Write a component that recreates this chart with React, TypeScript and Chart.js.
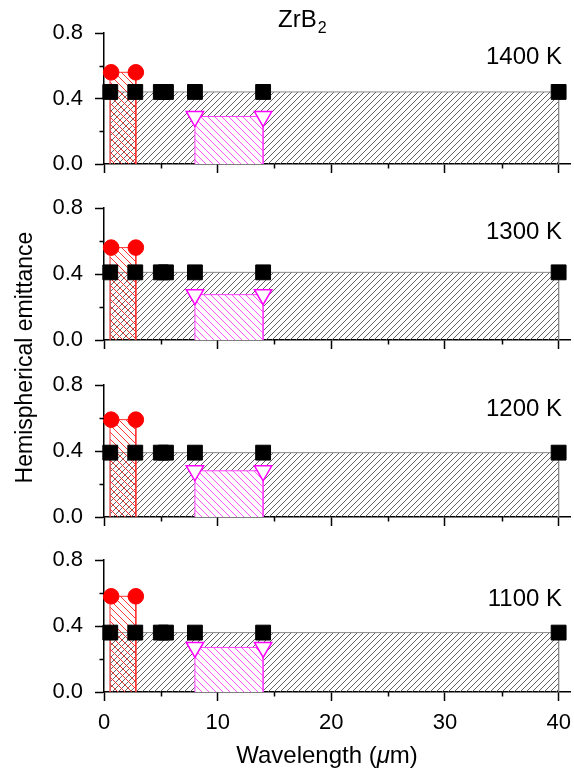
import React, { useEffect, useRef } from 'react';
import { Chart, registerables } from 'chart.js';

Chart.register(...registerables);

// ---------------- data ----------------
const temperatures = ['1400 K', '1300 K', '1200 K', '1100 K'];
const tempLabelY = [0.65, 0.65, 0.65, 0.56];
const tempLabelX = 40.3;

// black squares
const squareX = [0.55, 2.75, 5.0, 5.45, 8, 14, 40];
const squareY = [0.44, 0.41, 0.39, 0.36];
// red circles
const circleX = [0.63, 2.8];
const circleY = [0.56, 0.56, 0.59, 0.58];
// magenta triangles
const triangleX = [8, 14];
const triangleY = [0.29, 0.275, 0.28, 0.27];

// hatched band limits (wavelength ranges)
const blackRange = [0.55, 40];
const redRange = [0.53, 2.8];
const magentaRange = [8, 14];

const xMin = 0;
const xMax = 41;
const xStep = 10;
const yMin = 0;
const yMax = 0.8;
const yStep = 0.4;

// ---------------- layout ----------------
const W = 574;
const H = 774;
const PANEL_TOP = [33, 208, 385, 560];
const PANEL_BOTTOM = [164, 340, 517, 692];
const PLOT_LEFT = 104;
const PLOT_RIGHT = 570;
const X_AXIS_H = 40;
const FONT = '"Liberation Sans", Arial, Helvetica, sans-serif';

Chart.defaults.font.family = FONT;

function rect(range: number[], top: number) {
  return [
    { x: range[0], y: 0 },
    { x: range[0], y: top },
    { x: range[1], y: top },
    { x: range[1], y: 0 },
  ];
}

function makePattern(size: number, color: string, dir: 'up' | 'down', bg: string | null, lw: number) {
  const c = document.createElement('canvas');
  c.width = size;
  c.height = size;
  const g = c.getContext('2d')!;
  if (bg) {
    g.fillStyle = bg;
    g.fillRect(0, 0, size, size);
  }
  g.strokeStyle = color;
  g.lineWidth = lw;
  g.beginPath();
  if (dir === 'up') {
    g.moveTo(-1, size + 1);
    g.lineTo(size + 1, -1);
    g.moveTo(-1, 1);
    g.lineTo(1, -1);
    g.moveTo(size - 1, size + 1);
    g.lineTo(size + 1, size - 1);
  } else {
    g.moveTo(-1, -1);
    g.lineTo(size + 1, size + 1);
    g.moveTo(-1, size - 1);
    g.lineTo(1, size + 1);
    g.moveTo(size - 1, -1);
    g.lineTo(size + 1, 1);
  }
  g.stroke();
  const ctx = document.createElement('canvas').getContext('2d')!;
  return ctx.createPattern(c, 'repeat')!;
}

function panelPlugin(i: number) {
  return {
    id: 'panelDecor' + i,
    afterDraw(chart: any) {
      const ctx: CanvasRenderingContext2D = chart.ctx;
      const xs = chart.scales.x;
      const ys = chart.scales.y;
      ctx.save();
      // minor ticks
      ctx.strokeStyle = '#000';
      ctx.lineWidth = 1.5;
      ctx.beginPath();
      const xt = xs.ticks;
      for (let k = 0; k < xt.length - 1; k++) {
        const px = Math.round(xs.getPixelForValue((xt[k].value + xt[k + 1].value) / 2)) + 0.5;
        ctx.moveTo(px, xs.top);
        ctx.lineTo(px, xs.top + 4.5);
      }
      const yt = ys.ticks;
      for (let k = 0; k < yt.length - 1; k++) {
        const py = Math.round(ys.getPixelForValue((yt[k].value + yt[k + 1].value) / 2)) + 0.5;
        ctx.moveTo(ys.right, py);
        ctx.lineTo(ys.right - 4.5, py);
      }
      ctx.stroke();

      // temperature label
      ctx.fillStyle = '#000';
      ctx.font = '24px ' + FONT;
      ctx.textAlign = 'right';
      ctx.textBaseline = 'middle';
      ctx.fillText(temperatures[i], xs.getPixelForValue(tempLabelX), ys.getPixelForValue(tempLabelY[i]));

      if (i === 0) {
        // title ZrB2
        ctx.textAlign = 'left';
        ctx.textBaseline = 'alphabetic';
        ctx.font = '24px ' + FONT;
        ctx.fillText('ZrB', 278, 27);
        const wz = ctx.measureText('ZrB').width;
        ctx.font = '16px ' + FONT;
        ctx.fillText('2', 278 + wz + 1, 33);
        // y title
        ctx.save();
        ctx.translate(32, 357.5);
        ctx.rotate(-Math.PI / 2);
        ctx.font = '23px ' + FONT;
        ctx.textAlign = 'center';
        ctx.textBaseline = 'alphabetic';
        ctx.fillText('Hemispherical emittance', 0, 0);
        ctx.restore();
      }
      if (i === 3) {
        // x title with italic mu
        const parts = [
          { t: 'Wavelength (', f: '24px ' + FONT },
          { t: 'μ', f: 'italic 24px ' + FONT },
          { t: 'm)', f: '24px ' + FONT },
        ];
        let total = 0;
        for (const p of parts) {
          ctx.font = p.f;
          total += ctx.measureText(p.t).width;
        }
        let x0 = 327 - total / 2;
        ctx.textAlign = 'left';
        ctx.textBaseline = 'alphabetic';
        for (const p of parts) {
          ctx.font = p.f;
          ctx.fillText(p.t, x0, 763);
          x0 += ctx.measureText(p.t).width;
        }
      }
      ctx.restore();
    },
  };
}

function buildConfig(i: number, patterns: any) {
  const grid = {
    display: true,
    drawOnChartArea: false,
    drawTicks: true,
    tickLength: 9,
    tickWidth: 1.5,
    tickColor: '#000',
  };
  const border = { display: true, color: '#000', width: 1.5 };
  return {
    type: 'scatter',
    data: {
      datasets: [
        {
          type: 'scatter',
          data: squareX.map((x) => ({ x, y: squareY[i] })),
          pointStyle: 'rect',
          pointRadius: 10.5,
          backgroundColor: '#000',
          borderColor: '#000',
          borderWidth: 1,
          showLine: false,
          clip: false,
          order: 0,
        },
        {
          type: 'scatter',
          data: circleX.map((x) => ({ x, y: circleY[i] })),
          pointStyle: 'circle',
          pointRadius: 7.8,
          backgroundColor: '#FF0000',
          borderColor: '#FF0000',
          borderWidth: 1,
          showLine: false,
          clip: false,
          order: 0,
        },
        {
          type: 'scatter',
          data: triangleX.map((x) => ({ x, y: triangleY[i] })),
          pointStyle: 'triangle',
          rotation: 180,
          pointRadius: 10,
          backgroundColor: '#FFFFFF',
          borderColor: '#FF00FF',
          borderWidth: 1.5,
          showLine: false,
          clip: false,
          order: 0,
        },
        {
          type: 'line',
          data: rect(redRange, circleY[i]),
          fill: 'origin',
          backgroundColor: patterns.red,
          borderColor: '#FF3030',
          borderWidth: 1,
          pointRadius: 0,
          tension: 0,
          clip: false,
          order: 1,
        },
        {
          type: 'line',
          data: rect(magentaRange, triangleY[i]),
          fill: 'origin',
          backgroundColor: patterns.magenta,
          borderColor: '#FF40FF',
          borderWidth: 1,
          pointRadius: 0,
          tension: 0,
          clip: false,
          order: 2,
        },
        {
          type: 'line',
          data: rect(blackRange, squareY[i]),
          fill: 'origin',
          backgroundColor: patterns.black,
          borderColor: '#8a8a8a',
          borderWidth: 1,
          pointRadius: 0,
          tension: 0,
          clip: false,
          order: 3,
        },
      ],
    },
    options: {
      responsive: false,
      animation: false,
      devicePixelRatio: 1,
      events: [],
      layout: {
        autoPadding: false,
        padding: {
          left: 0,
          right: W - PLOT_RIGHT,
          top: PANEL_TOP[i],
          bottom: H - PANEL_BOTTOM[i] - X_AXIS_H,
        },
      },
      plugins: {
        legend: { display: false },
        tooltip: { enabled: false },
        title: { display: false },
      },
      scales: {
        x: {
          type: 'linear',
          min: xMin,
          max: xMax,
          afterFit: (s: any) => {
            s.height = X_AXIS_H;
            s.paddingLeft = 0;
            s.paddingRight = 0;
            s.paddingTop = 0;
            s.paddingBottom = 0;
          },
          ticks: {
            stepSize: xStep,
            includeBounds: false,
            padding: 9,
            color: '#000',
            font: { size: 22, family: FONT },
            callback: (v: any) => (i === 3 ? String(v) : ''),
          },
          grid,
          border,
        },
        y: {
          type: 'linear',
          min: yMin,
          max: yMax,
          afterFit: (s: any) => {
            s.width = PLOT_LEFT;
            s.paddingLeft = 0;
            s.paddingRight = 0;
            s.paddingTop = 0;
            s.paddingBottom = 0;
          },
          ticks: {
            stepSize: yStep,
            includeBounds: false,
            padding: 12,
            color: '#000',
            font: { size: 22, family: FONT },
            callback: (v: any) => Number(v).toFixed(1),
          },
          grid,
          border,
        },
      },
    },
    plugins: [panelPlugin(i)],
  };
}

export default function App() {
  const refs = useRef<(HTMLCanvasElement | null)[]>([]);

  useEffect(() => {
    const patterns = {
      black: makePattern(6, '#505050', 'up', null, 0.9),
      red: makePattern(7, '#FF2020', 'down', null, 0.9),
      magenta: makePattern(7, '#FF40FF', 'down', '#FFFFFF', 0.9),
    };
    const charts = refs.current.map((cv, i) => new Chart(cv as HTMLCanvasElement, buildConfig(i, patterns) as any));
    return () => charts.forEach((c) => c.destroy());
  }, []);

  return (
    <div style={{ position: 'absolute', left: 0, top: 0, width: W, height: H, background: '#fff' }}>
      {[0, 1, 2, 3].map((i) => (
        <canvas
          key={i}
          ref={(el) => {
            refs.current[i] = el;
          }}
          width={W}
          height={H}
          style={{ position: 'absolute', left: 0, top: 0, width: W, height: H }}
        />
      ))}
    </div>
  );
}
